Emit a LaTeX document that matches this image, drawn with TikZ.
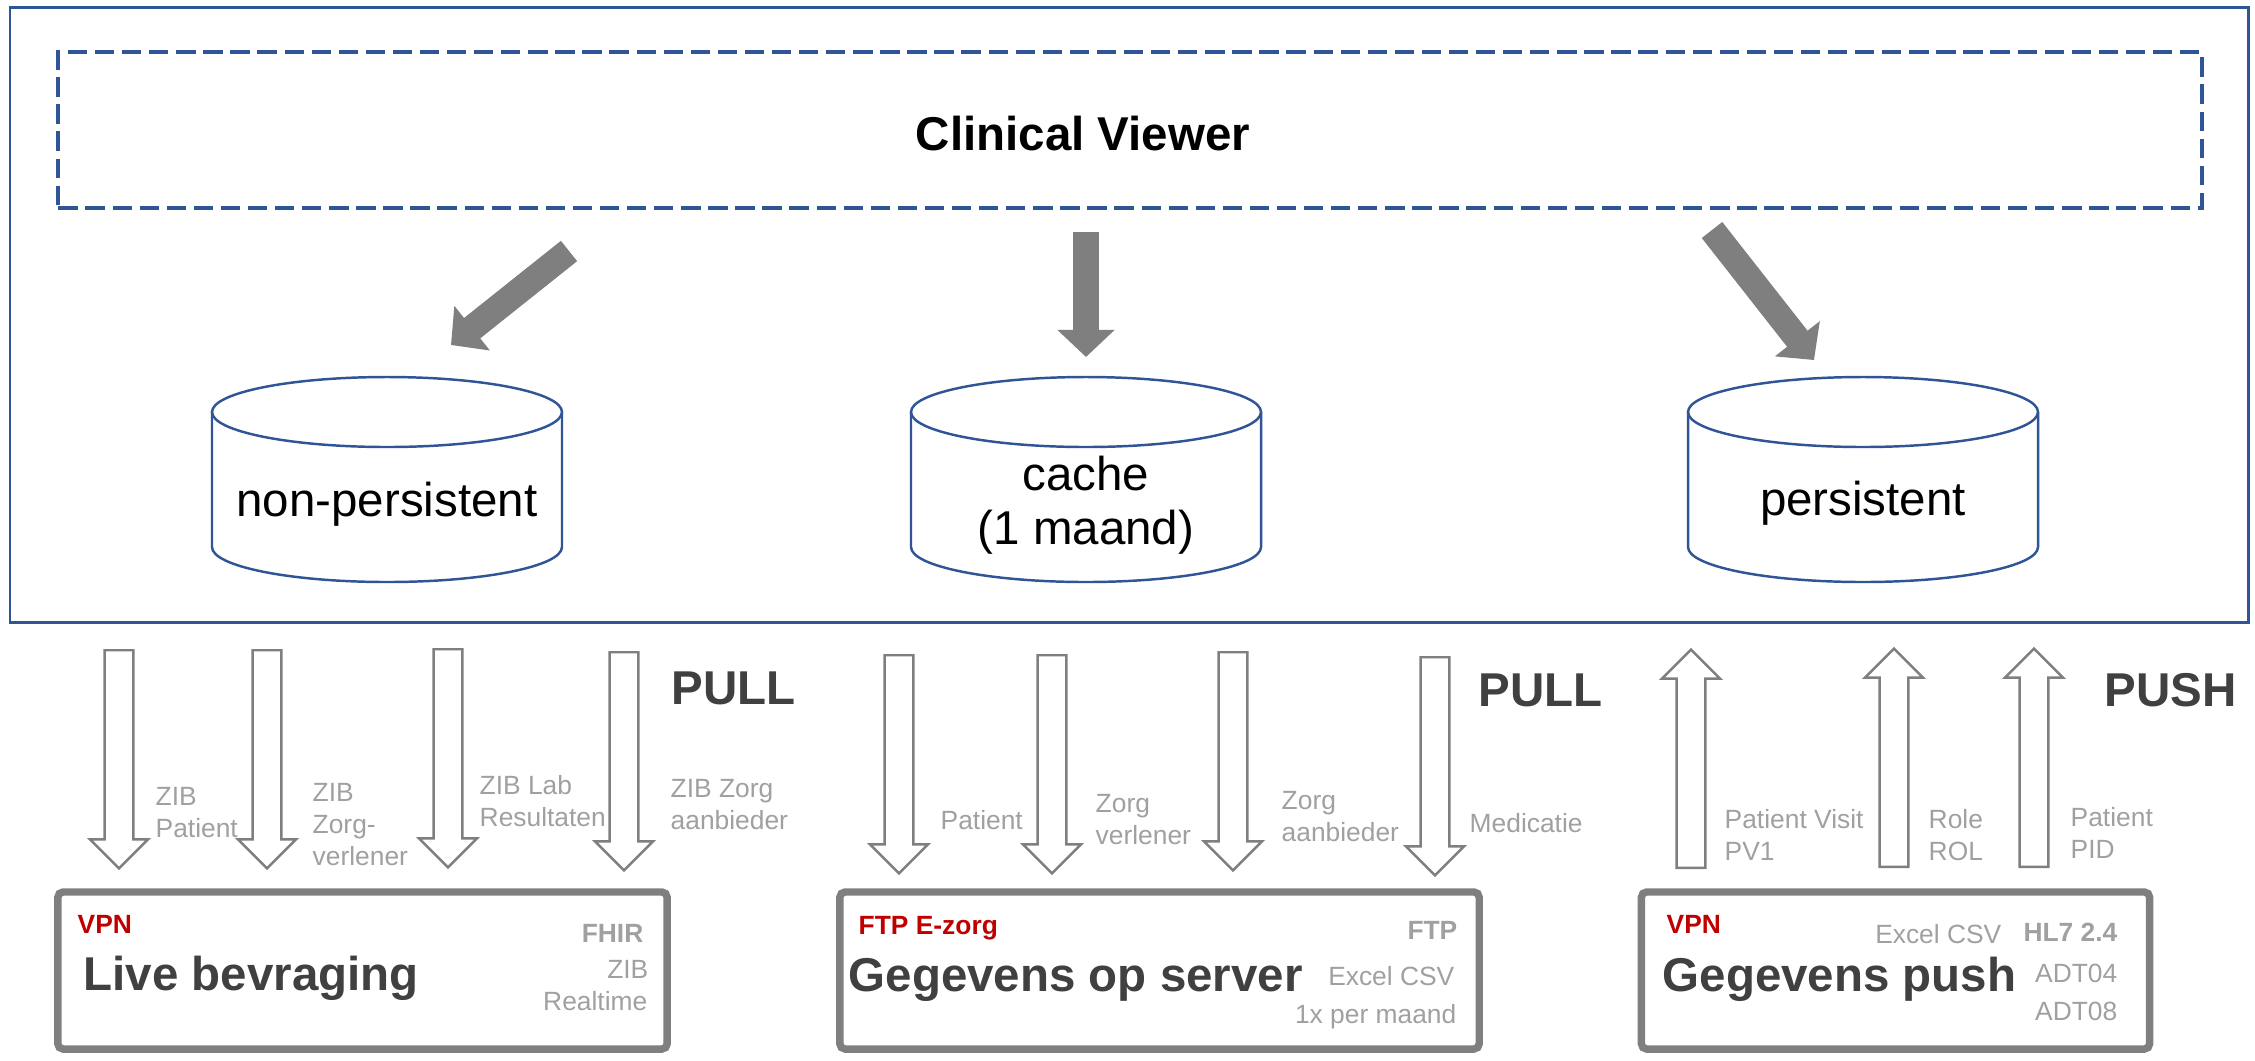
\documentclass[tikz,border=0pt]{standalone}
\usepackage{fontspec}
\setmainfont{Liberation Sans}
\usetikzlibrary{arrows.meta,shapes.arrows}
\definecolor{cvblue}{HTML}{2F5597}
\definecolor{feedgray}{HTML}{7F7F7F}
\definecolor{taggray}{HTML}{A0A0A0}
\definecolor{darktext}{HTML}{404040}
\definecolor{vpnred}{HTML}{C00000}
\tikzset{every picture/.style = {x=0.01cm, y=-0.01cm}}
\tikzset{frame/.style = {draw=cvblue, line width=0.85pt}}
\tikzset{viewer/.style = {draw=cvblue, line width=1.1pt, dash pattern=on 5.5pt off 2.2pt}}
\tikzset{store/.style = {draw=cvblue, line width=0.7pt}}
\tikzset{storetext/.style = {font=\fontsize{13.5}{15.4}\selectfont, align=center, inner sep=0}}
\tikzset{title/.style = {font=\bfseries\fontsize{13.5}{16}\selectfont, inner sep=0}}
\tikzset{feed/.style = {draw=feedgray, line width=0.26cm, -{Triangle[length=0.27cm, width=0.555cm]}}}
\tikzset{blockarrow/.style = {single arrow, draw=feedgray, fill=white, line width=0.7pt,
    minimum height=2.18cm, inner xsep=0pt, inner ysep=0.132cm,
    single arrow head extend=0.145cm, single arrow tip angle=90, anchor=tail}}
\tikzset{pulldown/.style = {blockarrow, rotate=-90}}
\tikzset{pushup/.style = {blockarrow, rotate=90}}
\tikzset{tag/.style = {font=\fontsize{7.5}{9.1}\selectfont, text=taggray, align=left, anchor=north west, inner sep=0}}
\tikzset{mode/.style = {font=\bfseries\fontsize{13.5}{16}\selectfont, text=darktext, anchor=west, inner sep=0}}
\tikzset{source/.style = {draw=feedgray, line width=2.1pt, rounded corners=1.5pt, minimum height=1.57cm}}
\tikzset{sourcename/.style = {font=\bfseries\fontsize{13.5}{16}\selectfont, text=darktext, anchor=base west, inner sep=0}}
\tikzset{link/.style = {font=\bfseries\fontsize{7.5}{9}\selectfont, text=vpnred, anchor=base west, inner sep=0}}
\tikzset{fmt/.style = {font=\fontsize{7.5}{9}\selectfont, text=taggray, anchor=base east, inner sep=0}}
\tikzset{fmtbold/.style = {fmt, font=\bfseries\fontsize{7.5}{9}\selectfont}}
\newcommand{\datastore}[1]{%
  \draw[store] (#1-175,412) -- (#1-175,547)
    arc[start angle=180, end angle=0, x radius=175, y radius=35] -- (#1+175,412);
  \draw[store] (#1,412) ellipse [x radius=175, y radius=35];}
\begin{document}
\begin{tikzpicture}
  \useasboundingbox (0,0) rectangle (2255,1060);
  % clinical viewer
  \draw[frame] (10,7) rectangle (2248,622);
  \node[viewer, minimum width=21.42cm, minimum height=1.56cm] (cvbox) at (1130,130) {};
  \node[title] (cv) at (1083,134) {Clinical Viewer};
  % opslag
  \datastore{387}
  \datastore{1086}
  \datastore{1863}
  \node[storetext] (np) at (387,504) {non-persistent};
  \node[storetext] (cache) at (1086,505) {cache\\(1 maand)};
  \node[storetext] (pers) at (1863,503) {persistent};
  \coordinate (f1) at (569,251);
  \coordinate (t1) at (451,345);
  \coordinate (f2) at (1086,232);
  \coordinate (t2) at (1086,357);
  \coordinate (f3) at (1712,230);
  \coordinate (t3) at (1814,360);
  \draw[feed] (f1) -- (t1);
  \draw[feed] (f2) -- (t2);
  \draw[feed] (f3) -- (t3);
  % live bevraging
  \node[pulldown] (a1) at (119,649) {};
  \node[pulldown] (a2) at (267,649) {};
  \node[pulldown] (a3) at (448,648) {};
  \node[pulldown] (a4) at (624,651) {};
  \node[tag] (la1) at (155,787) {ZIB\\Patient};
  \node[tag] (la2) at (312,783) {ZIB\\Zorg-\\verlener};
  \node[tag] (la3) at (479,775) {ZIB Lab\\Resultaten};
  \node[tag] (la4) at (670,779) {ZIB Zorg\\aanbieder};
  \node[mode] (pull1) at (671,688) {PULL};
  \node[source, minimum width=6.09cm] (live) at (362.5,970.5) {};
  \node[link] (vpn1) at (77,933) {VPN};
  \node[sourcename] (livename) at (83,990) {Live bevraging};
  \node[fmtbold] (fhir) at (644,942) {FHIR};
  \node[fmt] (zib) at (649,978) {ZIB};
  \node[fmt] (realtime) at (648,1010) {Realtime};
  % gegevens op server
  \node[pulldown] (b1) at (899,654) {};
  \node[pulldown] (b2) at (1052,654) {};
  \node[pulldown] (b3) at (1233,651) {};
  \node[pulldown] (b4) at (1435,656) {};
  \node[tag] (lb1) at (940,810) {Patient};
  \node[tag] (lb2) at (1095,794) {Zorg\\verlener};
  \node[tag] (lb3) at (1281,791) {Zorg\\aanbieder};
  \node[tag] (lb4) at (1469,813) {Medicatie};
  \node[mode] (pull2) at (1478,690) {PULL};
  \node[source, minimum width=6.39cm] (server) at (1159.5,970.5) {};
  \node[link] (ftp) at (858,934) {FTP E-zorg};
  \node[sourcename] (servername) at (848,991) {Gegevens op server};
  \node[fmtbold] (ftpfmt) at (1458,939) {FTP};
  \node[fmt] (csv1) at (1455,985) {Excel CSV};
  \node[fmt] (freq) at (1457,1023) {1x per maand};
  % gegevens push
  \node[pushup] (c1) at (1691,869) {};
  \node[pushup] (c2) at (1894,868) {};
  \node[pushup] (c3) at (2034,868) {};
  \node[tag] (lc1) at (1724,809) {Patient Visit\\PV1};
  \node[tag] (lc2) at (1928,809) {Role\\ROL};
  \node[tag] (lc3) at (2070,807) {Patient\\PID};
  \node[mode] (push) at (2104,690) {PUSH};
  \node[source, minimum width=5.08cm] (pushbox) at (1895.5,970.5) {};
  \node[link] (vpn2) at (1666,933) {VPN};
  \node[sourcename] (pushname) at (1662,991) {Gegevens push};
  \node[fmt] (csv2) at (2002,943) {Excel CSV};
  \node[fmtbold] (hl7) at (2118,941) {HL7 2.4};
  \node[fmt] (adt04) at (2118,982) {ADT04};
  \node[fmt] (adt08) at (2118,1020) {ADT08};
\end{tikzpicture}
\end{document}
